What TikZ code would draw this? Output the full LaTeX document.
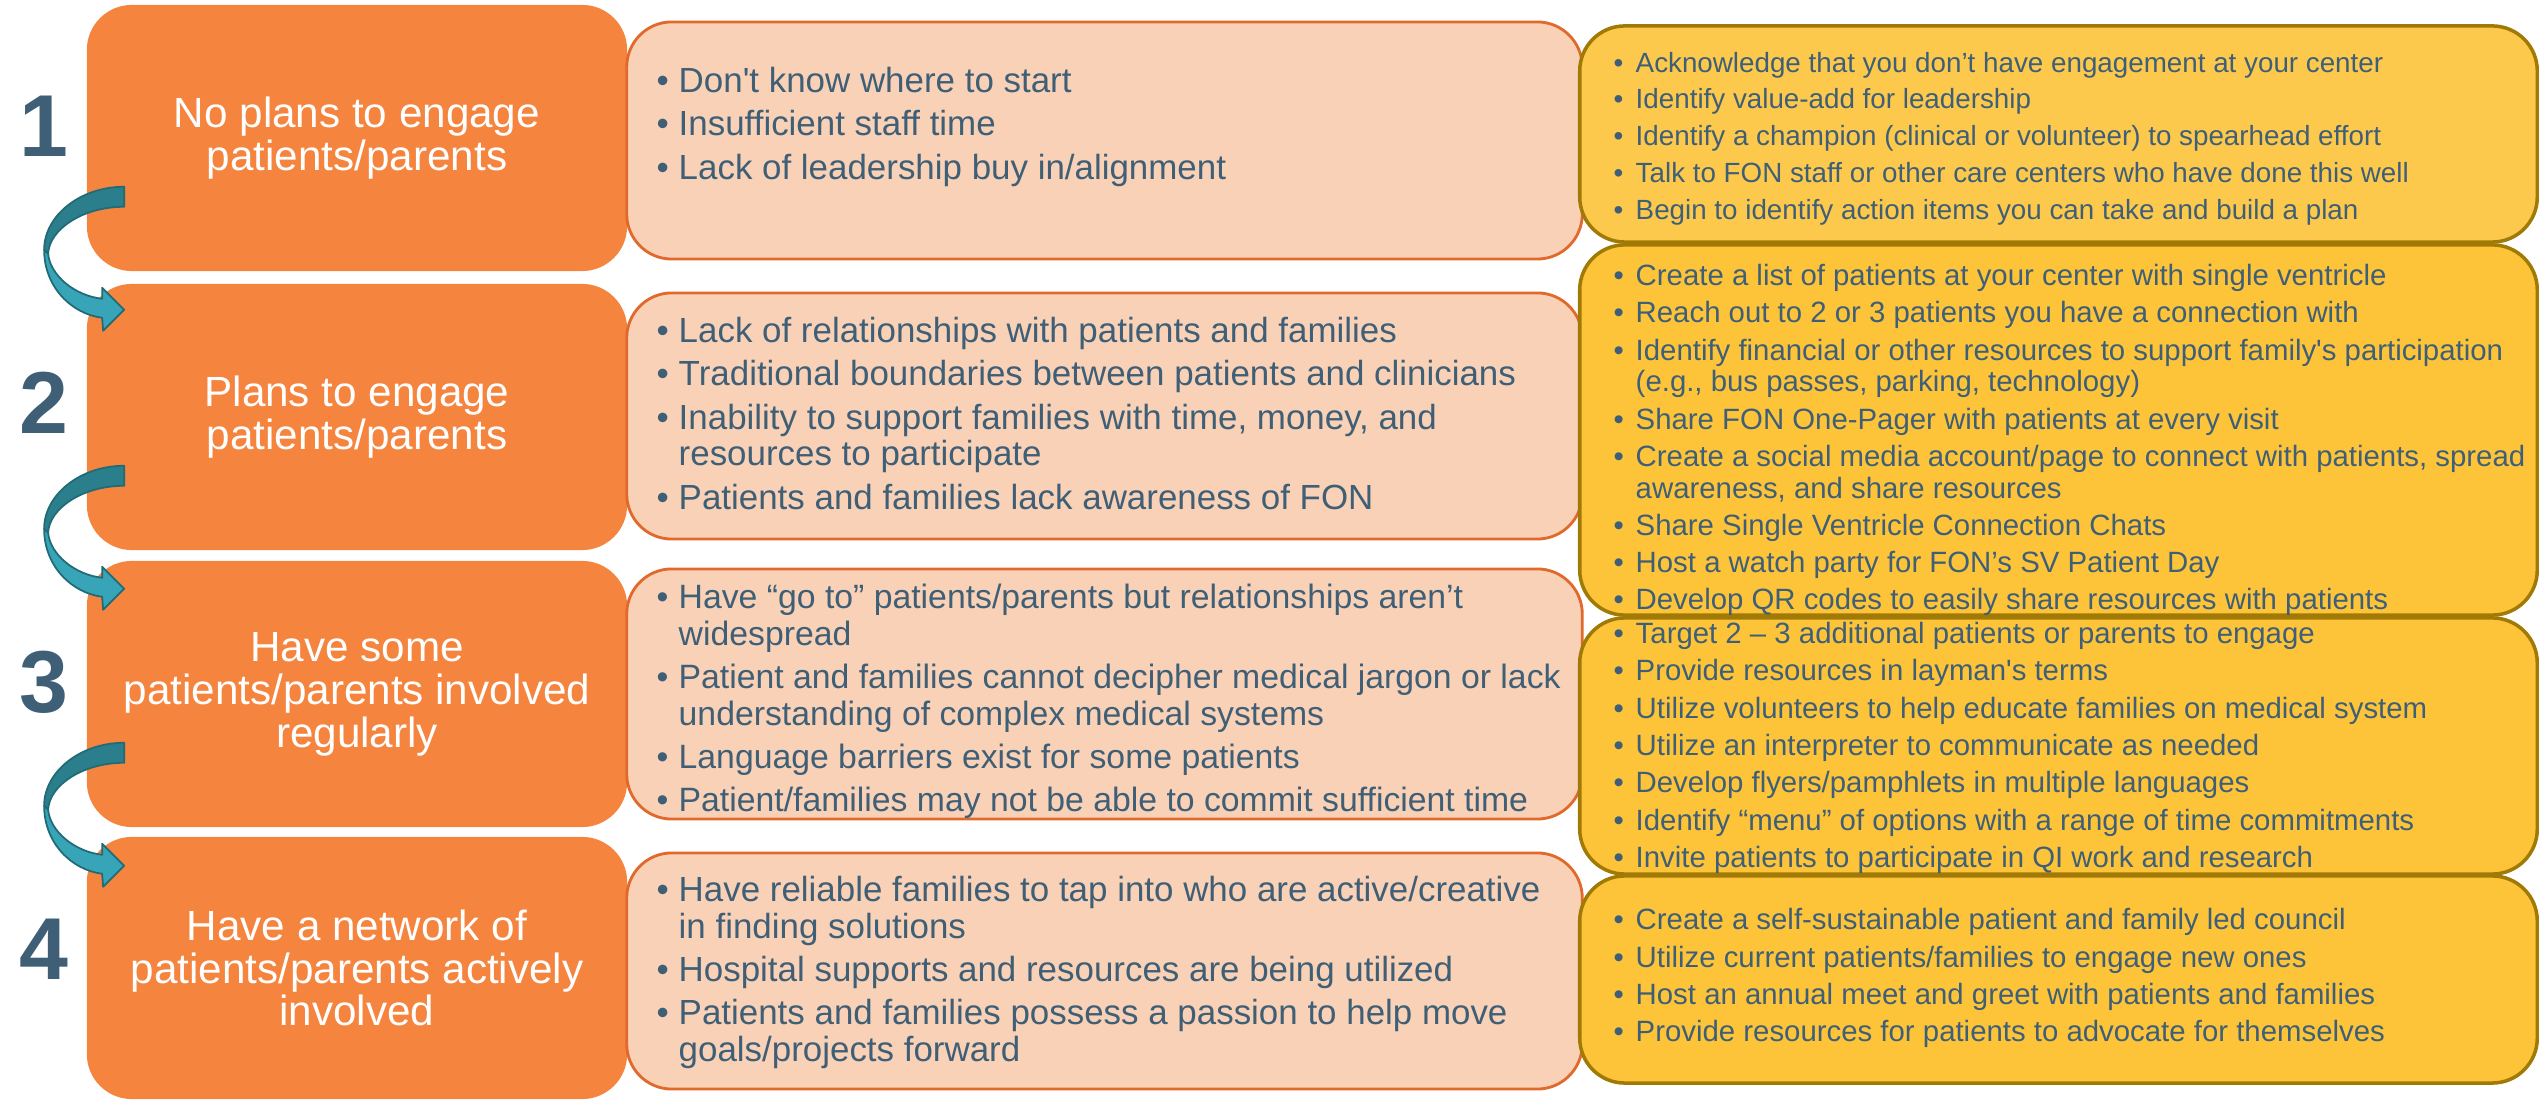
\documentclass[tikz,border=0pt]{standalone}
\usepackage{fontspec}
\setmainfont{Liberation Sans}[Ligatures=TeXOff]
\usetikzlibrary{positioning}
\definecolor{StageOrange}{HTML}{F4843E}
\definecolor{BarrierFill}{HTML}{F9D1B6}
\definecolor{BarrierLine}{HTML}{E0692B}
\definecolor{ActionFill}{HTML}{FDC43A}
\definecolor{ActionLight}{HTML}{FDC94C}
\definecolor{ActionLine}{HTML}{A17A06}
\definecolor{Slate}{HTML}{3F5F77}
\definecolor{TealDark}{HTML}{2B7E8B}
\definecolor{TealLight}{HTML}{37A5B7}
\definecolor{TealLine}{HTML}{216B77}

% bullet (with a strut so the first line has a fixed top) and hanging indent
\newcommand\bul{\rule{0pt}{0.75em}\makebox[0.22cm][l]{\textbullet}}
\newcommand\cont{\hspace*{0.22cm}}

\begin{document}
\begin{tikzpicture}[x=0.01cm,y=-0.01cm,
        stage/.style={rounded corners=0.45cm,fill=StageOrange,minimum width=5.40cm,minimum height=2.66cm,
          align=center,text=white,font=\fontsize{12pt}{12.2pt}\selectfont},
        barrier/.style={rounded corners=0.45cm,draw=BarrierLine,line width=0.8pt,fill=BarrierFill,minimum width=9.55cm},
        action/.style={rounded corners=0.45cm,draw=ActionLine,line width=1pt,fill=ActionFill,minimum width=9.57cm},
        stagenum/.style={anchor=base,text=Slate,font=\fontsize{25pt}{25pt}\selectfont\bfseries},
        midlist/.style={anchor=north west,align=left,inner sep=0pt,text=Slate,font=\fontsize{9.93pt}{10.4pt}\selectfont},
        sidelist/.style={anchor=north west,align=left,inner sep=0pt,text=Slate,font=\fontsize{8.35pt}{9pt}\selectfont},
        turnarrow/.pic={
          \filldraw[fill=TealDark,draw=TealLine,line width=0.5pt,line join=round]
            (38,-85) .. controls (-6,-85) and (-42,-56) .. (-42,-22) -- (-38,-18)
            .. controls (-37,-42) and (-4,-65) .. (38,-65) -- cycle;
          \filldraw[fill=TealLight,draw=TealLine,line width=0.5pt,line join=round]
            (-42,-22) .. controls (-42,15) and (-15,42) .. (16,46)
            -- (17,59) -- (38,38) -- (16,16) -- (16,27)
            .. controls (-11,24) and (-36,4) .. (-38,-18) -- cycle;
        }]
        \useasboundingbox (0,0) rectangle (2539,1101);

        % stages
        \node[stage] (s1) at (357,138) {No plans to engage\\patients/parents};
        \node[stage] (s2) at (357,417) {Plans to engage\\patients/parents};
        \node[stage] (s3) at (357,694) {Have some\\patients/parents involved\\regularly};
        \node[stage,minimum height=2.62cm] (s4) at (357,968) {Have a network of\\patients/parents actively\\involved};

        \node[stagenum] (n1) at (44,157) {1};
        \node[stagenum] (n2) at (44,434) {2};
        \node[stagenum] (n3) at (44,713) {3};
        \node[stagenum] (n4) at (44,980) {4};

        % barriers
        \node[barrier,minimum height=2.37cm] (b1) at (1104.5,140.5) {};
        \node[barrier,minimum height=2.46cm] (b2) at (1104.5,416) {};
        \node[barrier,minimum height=2.50cm] (b3) at (1104.5,694) {};
        \node[barrier,minimum height=2.36cm] (b4) at (1104.5,971) {};

        % actions
        \node[action,fill=ActionLight,minimum height=2.16cm] (a1) at (2058.5,134) {};
        \node[action,minimum height=3.70cm] (a2) at (2058.5,430) {};
        \node[action,minimum height=2.56cm] (a3) at (2058.5,746) {};
        \node[action,minimum height=2.07cm] (a4) at (2058.5,979.5) {};

        \node[midlist] (m1) at (656,65.8) {\bul Don't know where to start\\[1.9pt]
          \bul Insufficient staff time\\[1.9pt]
          \bul Lack of leadership buy in/alignment};
        \node[midlist] (m2) at (656,315.8) {\bul Lack of relationships with patients and families\\[1.9pt]
          \bul Traditional boundaries between patients and clinicians\\[1.9pt]
          \bul Inability to support families with time, money, and\\ \cont resources to participate\\[1.9pt]
          \bul Patients and families lack awareness of FON};
        \node[midlist,font=\fontsize{9.6pt}{10.4pt}\selectfont] (m3) at (656,582.7) {\bul Have “go to” patients/parents but relationships aren’t\\ \cont widespread\\[1.9pt]
          \bul Patient and families cannot decipher medical jargon or lack\\ \cont understanding of complex medical systems\\[1.9pt]
          \bul Language barriers exist for some patients\\[1.9pt]
          \bul Patient/families may not be able to commit sufficient time};
        \node[midlist] (m4) at (656,874.8) {\bul Have reliable families to tap into who are active/creative\\ \cont in finding solutions\\[1.9pt]
          \bul Hospital supports and resources are being utilized\\[1.9pt]
          \bul Patients and families possess a passion to help move\\ \cont goals/projects forward};

        \node[sidelist,font=\fontsize{7.9pt}{9pt}\selectfont] (r1) at (1613,50.5) {\bul Acknowledge that you don’t have engagement at your center\\[1.5pt]
          \bul Identify value-add for leadership\\[1.5pt]
          \bul Identify a champion (clinical or volunteer) to spearhead effort\\[1.5pt]
          \bul Talk to FON staff or other care centers who have done this well\\[1.5pt]
          \bul Begin to identify action items you can take and build a plan};
        \node[sidelist] (r2) at (1613,263) {\bul Create a list of patients at your center with single ventricle\\[1.6pt]
          \bul Reach out to 2 or 3 patients you have a connection with\\[1.6pt]
          \bul Identify financial or other resources to support family's participation\\ \cont (e.g., bus passes, parking, technology)\\[1.6pt]
          \bul Share FON One-Pager with patients at every visit\\[1.6pt]
          \bul Create a social media account/page to connect with patients, spread\\ \cont awareness, and share resources\\[1.6pt]
          \bul Share Single Ventricle Connection Chats\\[1.6pt]
          \bul Host a watch party for FON’s SV Patient Day\\[1.6pt]
          \bul Develop QR codes to easily share resources with patients};
        \node[sidelist] (r3) at (1613,621) {\bul Target 2 – 3 additional patients or parents to engage\\[1.6pt]
          \bul Provide resources in layman's terms\\[1.6pt]
          \bul Utilize volunteers to help educate families on medical system\\[1.6pt]
          \bul Utilize an interpreter to communicate as needed\\[1.6pt]
          \bul Develop flyers/pamphlets in multiple languages\\[1.6pt]
          \bul Identify “menu” of options with a range of time commitments\\[1.6pt]
          \bul Invite patients to participate in QI work and research};
        \node[sidelist] (r4) at (1613,907) {\bul Create a self-sustainable patient and family led council\\[1.6pt]
          \bul Utilize current patients/families to engage new ones\\[1.6pt]
          \bul Host an annual meet and greet with patients and families\\[1.6pt]
          \bul Provide resources for patients to advocate for themselves};

        % arrows from one stage to the next
        \pic at (s1.south west) {turnarrow};
        \pic at (s2.south west) {turnarrow};
        \pic at (s3.south west) {turnarrow};
      \end{tikzpicture}
\end{document}
